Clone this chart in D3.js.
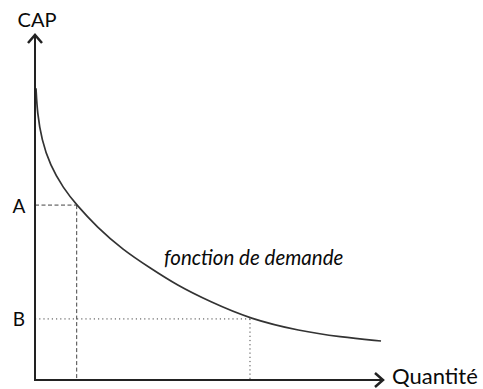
<!DOCTYPE html>
<html>
<head>
<meta charset="utf-8">
<script src="https://cdn.jsdelivr.net/npm/d3@7/dist/d3.min.js"></script>
<style>
  html, body { margin: 0; padding: 0; background: #fff; }
  svg { display: block; }
  text { font-family: Lato, "Open Sans", sans-serif; fill: #0a0a0a; }
</style>
</head>
<body>
<svg id="chart" width="483" height="389"></svg>
<script>
// Demand curve: quantity vs willingness to pay (CAP)
const quantite = [0.29, 0.66, 1.93, 4.31, 8.13, 11.98, 17.73, 25.29, 33.05, 40.72, 50.29, 61.78, 76.15, 87.64, 99.43];
const cap      = [84.55, 77.4, 69.6, 62.3, 55.6, 50.7, 44.4, 37.7, 32.5, 27.5, 22.7, 17.7, 14.2, 12.5, 11.3];

// Reference levels marked on the CAP axis
const niveaux = ["A", "B"];
const niveauxCap = [50.7, 17.7];
const niveauxQuantite = [11.98, 61.78];
const niveauxStyle = ["4,2.5", "1.2,3"];

const axisLabels = ["CAP", "Quantité"];
const curveLabel = "fonction de demande";

const svg = d3.select("#chart");
const x0 = 35, x1 = 383, y0 = 380, y1 = 35;

const x = d3.scaleLinear().domain([0, 100]).range([x0, x1]);
const y = d3.scaleLinear().domain([0, 100]).range([y0, y1]);

const ink = "#222";

// Guide lines for A and B
niveaux.forEach((n, i) => {
  const g = svg.append("g");
  g.append("line")
    .attr("x1", x(0)).attr("x2", x(niveauxQuantite[i]))
    .attr("y1", y(niveauxCap[i])).attr("y2", y(niveauxCap[i]))
    .attr("stroke", "#444").attr("stroke-width", 1)
    .attr("stroke-dasharray", niveauxStyle[i]);
  g.append("line")
    .attr("x1", x(niveauxQuantite[i])).attr("x2", x(niveauxQuantite[i]))
    .attr("y1", y(niveauxCap[i])).attr("y2", y(0))
    .attr("stroke", "#444").attr("stroke-width", 1)
    .attr("stroke-dasharray", niveauxStyle[i]);
  svg.append("text")
    .attr("x", 19).attr("y", y(niveauxCap[i]))
    .attr("text-anchor", "middle").attr("dominant-baseline", "central")
    .attr("font-size", 19)
    .text(n);
});

// Demand curve
const pts = quantite.map((q, i) => [q, cap[i]]);
svg.append("path")
  .datum(pts)
  .attr("d", d3.line().x(d => x(d[0])).y(d => y(d[1])).curve(d3.curveBasis))
  .attr("fill", "none")
  .attr("stroke", "#333")
  .attr("stroke-width", 1.7);

// Axes with open arrowheads
svg.append("line")
  .attr("x1", x0).attr("y1", y0 + 1).attr("x2", x0).attr("y2", y1 - 1)
  .attr("stroke", ink).attr("stroke-width", 2);
svg.append("line")
  .attr("x1", x0 - 1).attr("y1", y0).attr("x2", x1 + 1).attr("y2", y0)
  .attr("stroke", ink).attr("stroke-width", 2);

svg.append("path")
  .attr("d", `M${x0 - 7},${y1 + 8} L${x0},${y1} L${x0 + 7},${y1 + 8}`)
  .attr("fill", "none").attr("stroke", ink).attr("stroke-width", 2.5)
  .attr("stroke-linejoin", "miter");
svg.append("path")
  .attr("d", `M${x1 - 8},${y0 - 7} L${x1},${y0} L${x1 - 8},${y0 + 7}`)
  .attr("fill", "none").attr("stroke", ink).attr("stroke-width", 2.5)
  .attr("stroke-linejoin", "miter");

// Axis titles
svg.append("text")
  .attr("x", 37).attr("y", 19)
  .attr("text-anchor", "middle").attr("dominant-baseline", "central")
  .attr("font-size", 20)
  .text(axisLabels[0]);
svg.append("text")
  .attr("x", 392).attr("y", y0 - 5)
  .attr("dominant-baseline", "central")
  .attr("font-size", 22)
  .text(axisLabels[1]);

// Curve label
svg.append("text")
  .attr("x", 164).attr("y", 257)
  .attr("dominant-baseline", "central")
  .attr("font-size", 20.5)
  .attr("font-style", "italic")
  .text(curveLabel);
</script>
</body>
</html>
